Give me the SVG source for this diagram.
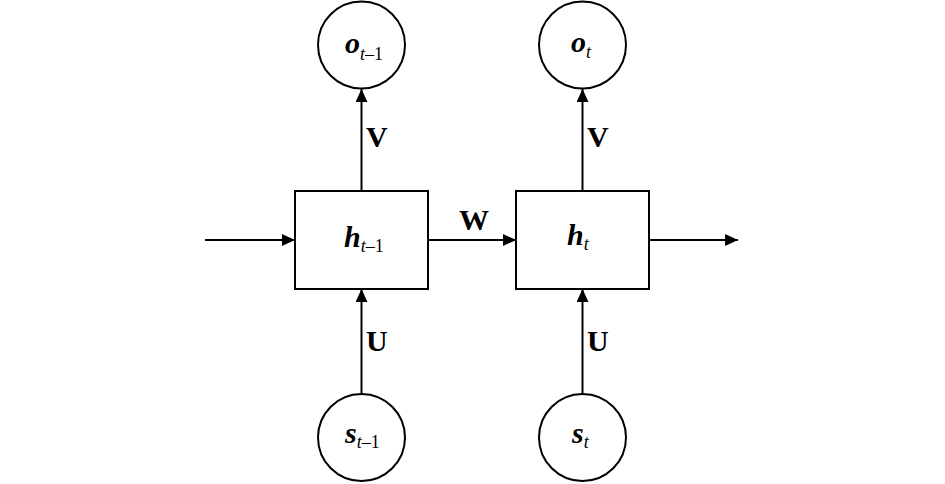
<svg xmlns="http://www.w3.org/2000/svg" width="945" height="484" viewBox="0 0 945 484">
<style>
.node{fill:#fff;stroke:#000;stroke-width:2}
.edge{fill:none;stroke:#000;stroke-width:2}
.v{font-family:"Liberation Serif",serif;font-weight:bold;font-style:italic;font-size:30px}
.sub{font-family:"Liberation Serif",serif;font-style:italic;font-size:18px}
.n{font-style:normal}
.lbl{font-family:"Liberation Serif",serif;font-weight:bold;font-size:30px}
</style>
<defs>
<marker id="ah" viewBox="0 0 13 12" refX="13" refY="6" markerWidth="13" markerHeight="12" markerUnits="userSpaceOnUse" orient="auto">
<path d="M0,0 L13,6 L0,12 Z" fill="#000"/>
</marker>
</defs>
<rect width="945" height="484" fill="#fff"/>
<g id="connectors">
<line class="edge" x1="205" y1="240" x2="295" y2="240" marker-end="url(#ah)"/>
<line class="edge" x1="428" y1="240" x2="516" y2="240" marker-end="url(#ah)"/>
<line class="edge" x1="649" y1="240" x2="738" y2="240" marker-end="url(#ah)"/>
<line class="edge" x1="361.5" y1="191" x2="361.5" y2="89" marker-end="url(#ah)"/>
<line class="edge" x1="582.5" y1="191" x2="582.5" y2="89" marker-end="url(#ah)"/>
<line class="edge" x1="361.5" y1="394" x2="361.5" y2="289" marker-end="url(#ah)"/>
<line class="edge" x1="582.5" y1="394" x2="582.5" y2="289" marker-end="url(#ah)"/>
<text class="lbl" x="366" y="147">V</text>
<text class="lbl" x="587" y="147">V</text>
<text class="lbl" x="459" y="230">W</text>
<text class="lbl" x="366" y="351">U</text>
<text class="lbl" x="587" y="351">U</text>
</g>
<g id="o_prev">
<circle class="node" cx="361.5" cy="45" r="43.5"/>
<text x="345" y="53"><tspan class="v">o</tspan><tspan class="sub" dy="7">t</tspan><tspan class="sub n">–1</tspan></text>
</g>
<g id="o_t">
<circle class="node" cx="582.5" cy="45" r="43.5"/>
<text x="571" y="52"><tspan class="v">o</tspan><tspan class="sub" dy="6">t</tspan></text>
</g>
<g id="h_prev">
<rect class="node" x="295" y="191" width="133" height="98"/>
<text x="344" y="247"><tspan class="v">h</tspan><tspan class="sub" dy="5">t</tspan><tspan class="sub n">–1</tspan></text>
</g>
<g id="h_t">
<rect class="node" x="516" y="191" width="133" height="98"/>
<text x="567" y="245"><tspan class="v">h</tspan><tspan class="sub" dy="5">t</tspan></text>
</g>
<g id="s_prev">
<circle class="node" cx="361.5" cy="437.5" r="43.5"/>
<text x="345" y="443"><tspan class="v">s</tspan><tspan class="sub" dy="5">t</tspan><tspan class="sub n">–1</tspan></text>
</g>
<g id="s_t">
<circle class="node" cx="582.5" cy="437.5" r="43.5"/>
<text x="572" y="443"><tspan class="v">s</tspan><tspan class="sub" dy="5">t</tspan></text>
</g>
</svg>
